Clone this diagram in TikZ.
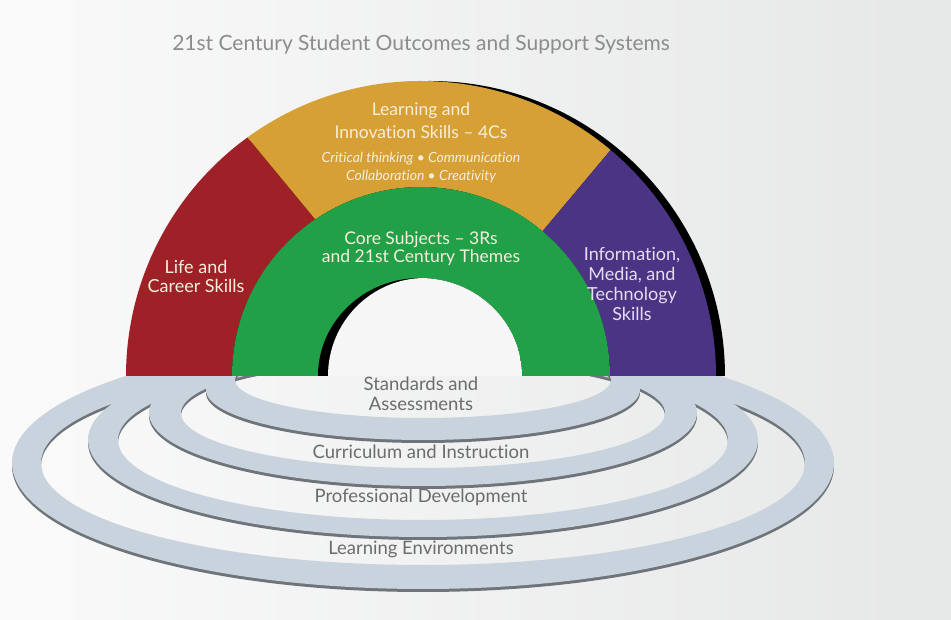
\documentclass[tikz,border=0pt]{standalone}
\usepackage{fontspec}
\setmainfont{Lato}[Ligatures={TeX,NoCommon}]
\definecolor{bgleft}{HTML}{FAFAFA}
\definecolor{bgright}{HTML}{E6E7E7}
\definecolor{lifered}{HTML}{9E2128}
\definecolor{learngold}{HTML}{D6A034}
\definecolor{coregreen}{HTML}{22A048}
\definecolor{infopurple}{HTML}{4C3484}
\definecolor{holewhite}{HTML}{F6F6F6}
\definecolor{ringlight}{HTML}{C9D3DD}
\definecolor{ringdark}{HTML}{6E747A}
\definecolor{archink}{HTML}{F6EEDC}
\definecolor{infoink}{HTML}{E4DDEE}
\definecolor{ringink}{HTML}{6C6C6C}
\definecolor{titleink}{HTML}{8C8C8C}
\begin{document}
\begin{tikzpicture}[x=1pt,y=1pt,
    archtext/.style={text=archink,align=center,font=\fontsize{18}{21}\selectfont},
    smalltext/.style={text=archink,align=center,font=\fontsize{14}{18}\selectfont\itshape},
    ringtext/.style={text=ringink,align=center,font=\fontsize{18.5}{20}\selectfont},
    ringshade/.style={fill=ringdark,even odd rule},
    ringface/.style={fill=ringlight,even odd rule}]
  % background, also fixes the size of the page
  \fill[left color=bgleft,right color=bgright] (-421,-244) rectangle (530,376);

  % support systems: rings, hidden above the base of the arch
  \begin{scope}
    \clip (-421,-244) -- (530,-244) -- (530,376) -- (305,376) -- (305,0)
      -- (-296,0) -- (-296,376) -- (-421,376) -- cycle;
    \fill[ringshade] (2,-90) ellipse[x radius=411,y radius=126] (2,-90) ellipse[x radius=382,y radius=102];
    \fill[ringface] (2,-87) ellipse[x radius=411,y radius=126] (2,-87) ellipse[x radius=382,y radius=102];
    \fill[ringshade] (2,-67) ellipse[x radius=335,y radius=97] (2,-67) ellipse[x radius=305,y radius=80];
    \fill[ringface] (2,-64) ellipse[x radius=335,y radius=97] (2,-64) ellipse[x radius=305,y radius=80];
    \fill[ringshade] (2,-40) ellipse[x radius=274,y radius=73] (2,-40) ellipse[x radius=242,y radius=55];
    \fill[ringface] (2,-37) ellipse[x radius=274,y radius=73] (2,-37) ellipse[x radius=242,y radius=55];
    \fill[ringshade] (2,-17) ellipse[x radius=217,y radius=50] (2,-7) ellipse[x radius=188,y radius=38];
    \fill[ringface] (2,-14) ellipse[x radius=217,y radius=50] (2,-4) ellipse[x radius=188,y radius=38];
  \end{scope}

  % student outcomes: the arch
  \fill[black] (304,0) arc[start angle=0,end angle=180,radius=295] -- cycle;
  \fill[lifered] (180:295) arc[start angle=180,end angle=126,radius=295]
    -- (124:189) arc[start angle=124,end angle=180,radius=189] -- cycle;
  \fill[learngold] (126:295) arc[start angle=126,end angle=50,radius=295]
    -- (50:189) arc[start angle=50,end angle=124,radius=189] -- cycle;
  \fill[infopurple] (50:295) arc[start angle=50,end angle=0,radius=295]
    -- (0:189) arc[start angle=0,end angle=50,radius=189] -- cycle;
  \fill[coregreen] (189,0) arc[start angle=0,end angle=180,radius=189] -- cycle;
  \begin{scope}
    \clip (101,0) arc[start angle=0,end angle=180,x radius=102,y radius=98] -- cycle;
    \fill[black] (101,0) arc[start angle=0,end angle=180,x radius=102,y radius=98] -- cycle;
    \fill[holewhite] (101,0) arc[start angle=0,end angle=180,x radius=97,y radius=98] -- cycle;
  \end{scope}

  \node[text=titleink,font=\fontsize{21}{24}\selectfont] (title) at (0,331)
    {21st Century Student Outcomes and Support Systems};

  \node[archtext,font=\fontsize{17.5}{23}\selectfont] (learning) at (0,255) {Learning and\\Innovation Skills – 4Cs};
  \node[smalltext] (fourcs) at (0,208) {Critical thinking • Communication\\Collaboration • Creativity};
  \node[archtext,font=\fontsize{17.5}{18}\selectfont] (core) at (0,127) {Core Subjects – 3Rs\\and 21st Century Themes};
  \node[archtext,font=\fontsize{18}{19}\selectfont] (life) at (-225,100) {Life and\\Career Skills};
  \node[archtext,text=infoink,font=\fontsize{18}{20}\selectfont]
    (info) at (211,92) {Information,\\Media, and\\Technology\\Skills};

  \node[ringtext] (standards) at (0,-18) {Standards and\\Assessments};
  \node[ringtext] (curriculum) at (0,-76) {Curriculum and Instruction};
  \node[ringtext] (professional) at (0,-121) {Professional Development};
  \node[ringtext] (environments) at (0,-173) {Learning Environments};
\end{tikzpicture}
\end{document}
